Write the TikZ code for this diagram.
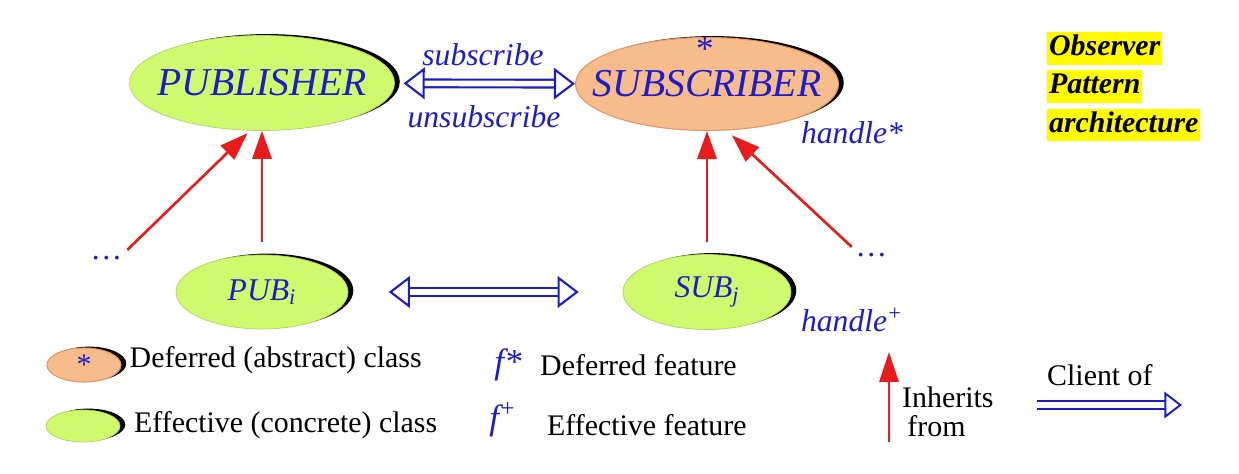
\documentclass[tikz,border=0pt]{standalone}
\usepackage{fontspec}
\setmainfont{Liberation Serif}
\usetikzlibrary{positioning, arrows.meta, shapes.geometric, shadows}

\definecolor{classblue}{RGB}{28,28,200}
\definecolor{inhred}{RGB}{232,28,28}
\definecolor{effgreen}{RGB}{208,250,110}
\definecolor{defpeach}{RGB}{246,188,140}
\definecolor{defedge}{RGB}{226,148,98}
\definecolor{markyellow}{RGB}{255,250,0}

\begin{document}
\begin{tikzpicture}[
    clienttip/.tip={Triangle[open, fill=white, length=12pt, width=18pt, line width=1.2pt 0 0]},
    classnode/.style={ellipse, inner sep=0pt, text=classblue, font=\fontsize{22.5}{26}\selectfont\itshape,
        drop shadow={opacity=1, fill=black, shadow xshift=3pt, shadow yshift=0.8pt}},
    deferred/.style={classnode, fill=defpeach, draw=defedge, line width=0.6pt},
    effective/.style={classnode, fill=effgreen, draw=effgreen!85!black, line width=0.4pt},
    inherit/.style={draw=inhred, line width=1.5pt, -{Triangle[length=16pt, width=11pt]}},
    client/.style={draw=classblue, line width=1.2pt, double=white, double distance=3.2pt, clienttip-clienttip},
    bluelbl/.style={text=classblue, font=\fontsize{18}{20}\selectfont\itshape},
    legendtxt/.style={anchor=west, font=\fontsize{17}{17}\selectfont},
    banner/.style={anchor=west, fill=markyellow, inner xsep=1pt, inner ysep=0.5pt, text height=13pt, text depth=4.5pt,
        font=\fontsize{17}{19}\selectfont\bfseries\itshape}
]
\useasboundingbox (0,0) rectangle (24.78,-9.48);

% classes
\node[effective, minimum width=5.3cm, minimum height=1.9cm](pub) at (5.24, -1.66) {\makebox[0pt]{PUBLISHER}};
\node[deferred, minimum width=5.26cm, minimum height=1.86cm](sub) at (14.14, -1.68) {\makebox[0pt]{SUBSCRIBER}};
\node[text=classblue, font=\fontsize{20}{22}\selectfont, inner sep=0pt](substar) at (14.1, -0.98) {*};

\node[effective, minimum width=3.44cm, minimum height=1.48cm, font=\fontsize{18}{20}\selectfont\itshape](pubi) at (5.24, -5.84) {\makebox[0pt]{PUB\textsubscript{i}}};
\node[effective, minimum width=3.36cm, minimum height=1.5cm, font=\fontsize{18}{20}\selectfont\itshape](subj) at (14.14, -5.84) {\makebox[0pt]{SUB\textsubscript{j}}};

\node[bluelbl](dotsL) at (2.14, -5.16) {…};
\node[bluelbl](dotsR) at (17.44, -5.1) {…};

% features and calls
\node[bluelbl](subs) at (9.66, -1.1) {subscribe};
\node[bluelbl](unsubs) at (9.68, -2.34) {unsubscribe};
\node[bluelbl](handleS) at (17.04, -2.66) {handle*};
\node[bluelbl](handleP) at (17.04, -6.4) {handle\textsuperscript{+}};

\node[banner](ttl1) at (20.94, -0.97) {Observer};
\node[banner](ttl2) at (20.94, -1.73) {Pattern};
\node[banner](ttl3) at (20.94, -2.5) {\textit{architectur}e};

\draw[inherit, shorten >=2pt] (dotsL.north east) -- (pub.256);
\draw[inherit, shorten <=7pt] (pubi.north) -- (pub.south);
\draw[inherit, shorten <=7pt] (subj.north) -- (sub.south);
\draw[inherit, shorten >=4pt] (dotsR.north west) -- (sub.293);

\draw[client, shorten <=5pt] (pub) -- (sub);
\draw[client, shorten <=23pt, shorten >=25pt] (pubi) -- (subj);

% legend
\node[deferred, minimum width=1.48cm, minimum height=0.68cm, font=\fontsize{17}{17}\selectfont,
    drop shadow={opacity=1, fill=black, shadow xshift=2pt, shadow yshift=0.5pt}](legDef) at (1.68, -7.3) {\makebox[0pt]{*}};
\node[effective, minimum width=1.48cm, minimum height=0.64cm,
    drop shadow={opacity=1, fill=black, shadow xshift=2pt, shadow yshift=0.5pt}](legEff) at (1.66, -8.52) {};
\node[legendtxt](legDefTxt) at (2.47, -7.2) {Deferred (abstract) class};
\node[legendtxt](legEffTxt) at (2.56, -8.5) {Effective (concrete) class};

\node[bluelbl, font=\fontsize{20}{22}\selectfont\itshape](fStar) at (10.16, -7.3) {f*};
\node[legendtxt](fStarTxt) at (10.68, -7.3) {Deferred feature};
\node[bluelbl, font=\fontsize{20}{22}\selectfont\itshape](fPlus) at (10.06, -8.4) {f\textsuperscript{+}};
\node[legendtxt](fPlusTxt) at (10.82, -8.5) {Effective feature};

\coordinate(inhFoot) at (17.78, -8.84);
\coordinate(inhHead) at (17.78, -7.04);
\draw[inherit, line width=1.1pt, -{Triangle[length=17pt, width=11pt]}] (inhFoot) -- (inhHead);
\node[legendtxt, align=left, font=\fontsize{17}{16.5}\selectfont](inhTxt) at (17.92, -8.24) {Inherits\\\hspace*{3pt}from};

\coordinate(cliFrom) at (20.74, -8.1);
\coordinate(cliTo) at (23.64, -8.1);
\draw[client, line width=1.1pt, double distance=3pt, -{Triangle[open, fill=white, length=10pt, width=15pt, line width=1.1pt 0 0]}] (cliFrom) -- (cliTo);
\node[legendtxt](cliTxt) at (20.82, -7.5) {Client of};
\end{tikzpicture}
\end{document}
